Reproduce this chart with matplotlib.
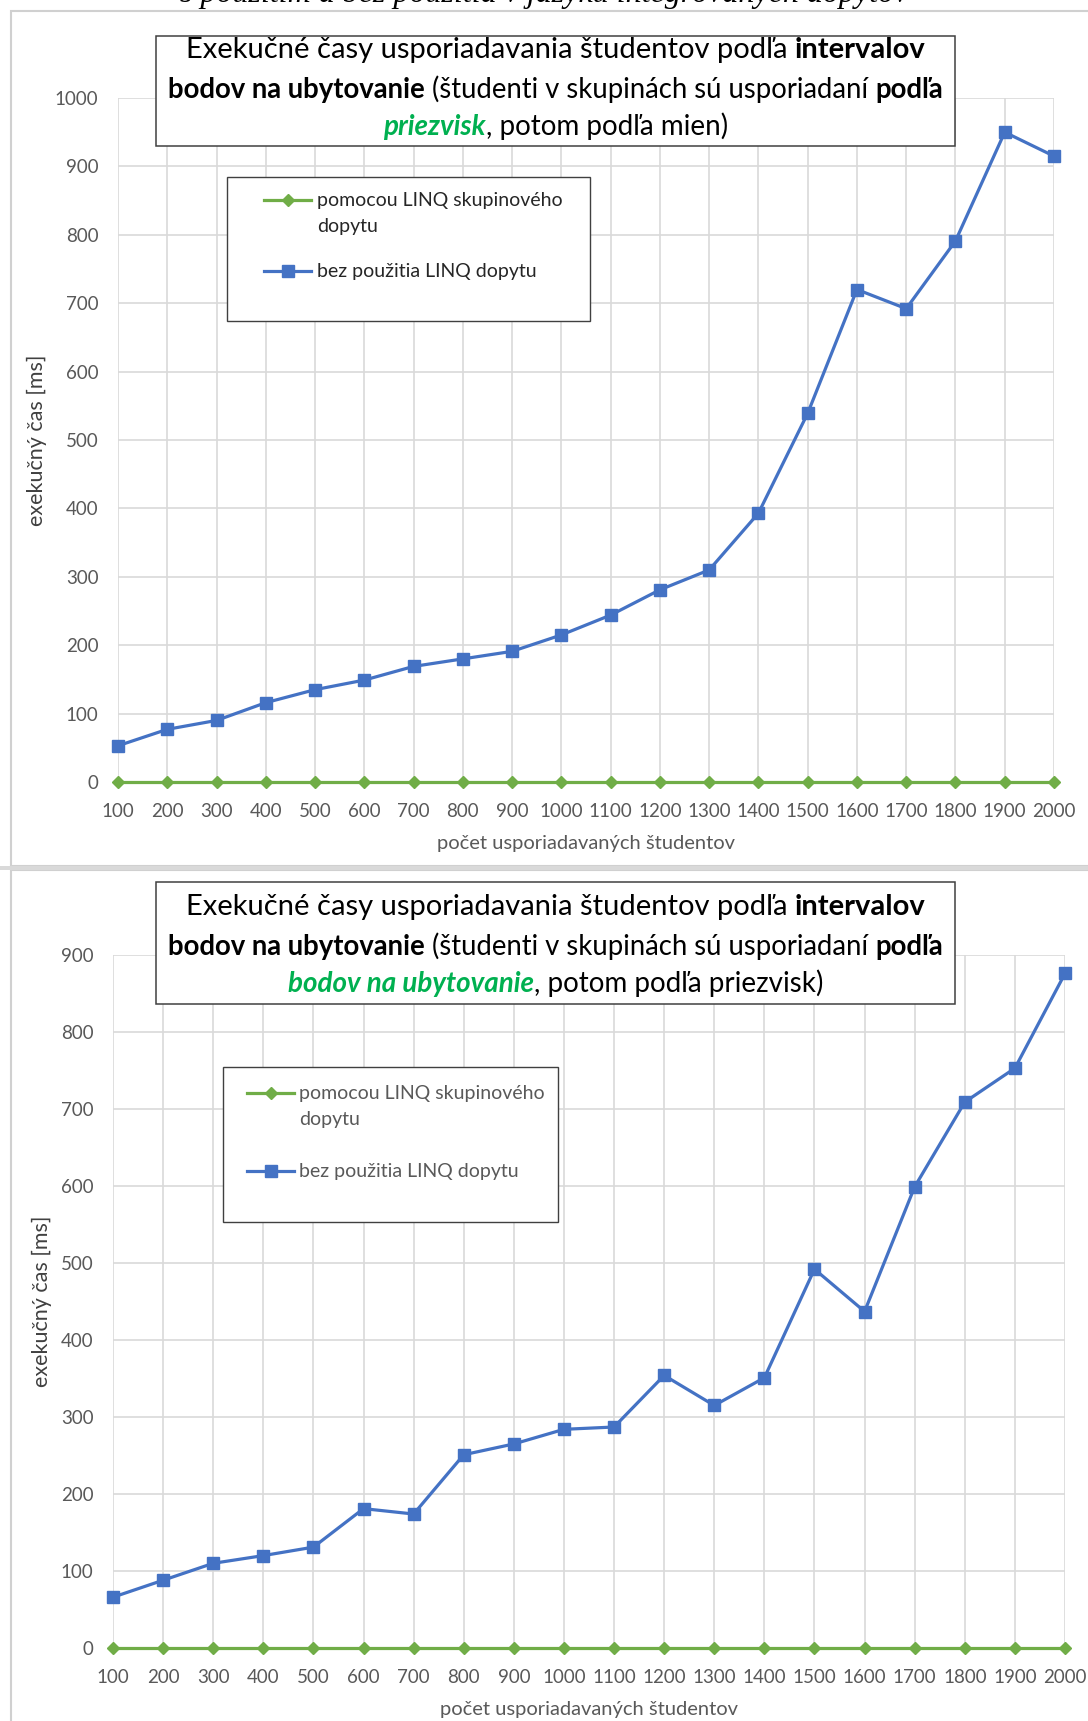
import matplotlib
matplotlib.use("Agg")
import matplotlib.pyplot as plt
from matplotlib.patches import Rectangle
from matplotlib.lines import Line2D

W, H = 1088, 1721
plt.rcParams['font.family'] = ['Lato', 'DejaVu Sans']

# data
students = [100, 200, 300, 400, 500, 600, 700, 800, 900, 1000,
            1100, 1200, 1300, 1400, 1500, 1600, 1700, 1800, 1900, 2000]
linq_top = [0] * 20
plain_top = [53, 77, 90, 116, 135, 149, 169, 180, 191, 215,
             244, 281, 310, 393, 539, 720, 692, 791, 950, 915]
linq_bottom = [0] * 20
plain_bottom = [66, 88, 110, 120, 131, 181, 174, 251, 265, 284,
                287, 354, 315, 351, 492, 437, 599, 709, 753, 876]

label_linq = "pomocou LINQ skupinového\ndopytu"
label_plain = "bez použitia LINQ dopytu"
xlabel = "počet usporiadavaných študentov"
ylabel = "exekučný čas [ms]"

BLUE = "#4472C4"
GREEN = "#70AD47"
TITLE_GREEN = "#00B050"
GRID = "#D9D9D9"

fig = plt.figure(figsize=(W / 100, H / 100), dpi=100)
renderer = fig.canvas.get_renderer()


def fx(px):
    return px / W


def fy(py):
    return 1 - py / H


def text_width(s, size, **kw):
    t = fig.text(0, 0, s, fontsize=size, transform=None, **kw)
    w = t.get_window_extent(renderer).width
    t.remove()
    return w


def rich_line(parts, cx, y, size):
    # parts: (text, props, space_before)
    sp = text_width("x x", size) - text_width("xx", size)
    items = []
    total = 0
    for i, (s, kw, gap) in enumerate(parts):
        g = sp if (gap and i > 0) else 0
        w = text_width(s, size, **kw)
        items.append((s, kw, g))
        total += g + w
    x = cx - total / 2
    for s, kw, g in items:
        x += g
        t = fig.text(fx(x), fy(y), s, fontsize=size, va='baseline', ha='left', zorder=8, **kw)
        x += t.get_window_extent(renderer).width


def panel(ax, linq, plain, ymax, title_parts, title_box, title_y, leg_box, leg_line, leg_y, leg_color):
    ax.plot(students, plain, color=BLUE, lw=2.3, marker='s', ms=9, clip_on=False, zorder=3)
    ax.plot(students, linq, color=GREEN, lw=2.3, marker='D', ms=6, clip_on=False, zorder=4)
    ax.set_xlim(100, 2000)
    ax.set_ylim(0, ymax)
    ax.set_xticks(students)
    ax.set_yticks(range(0, ymax + 1, 100))
    ax.grid(True, color=GRID, lw=1.2)
    ax.set_axisbelow(True)
    for s in ax.spines.values():
        s.set_visible(False)
    ax.tick_params(length=0, labelsize=13.5, labelcolor="#595959")
    ax.tick_params(axis='x', pad=15)
    ax.tick_params(axis='y', pad=14)
    ax.set_xlabel(xlabel, fontsize=14.5, color="#595959", labelpad=11)
    ax.set_ylabel(ylabel, fontsize=15.5, color="#404040", labelpad=6)

    # title box
    x0, y0, x1, y1 = title_box
    fig.add_artist(Rectangle((fx(x0), fy(y1)), fx(x1 - x0), (y1 - y0) / H,
                             transform=fig.transFigure, facecolor='white',
                             edgecolor='#404040', lw=1.1, zorder=5))
    for parts, y, size in zip(title_parts, title_y, (21, 19.8, 20)):
        rich_line(parts, (x0 + x1) / 2, y, size)

    # legend box
    x0, y0, x1, y1 = leg_box
    fig.add_artist(Rectangle((fx(x0), fy(y1)), fx(x1 - x0), (y1 - y0) / H,
                             transform=fig.transFigure, facecolor='white',
                             edgecolor='#404040', lw=1.0, zorder=5))
    lx0, lx1, tx = leg_line
    for (marker, ms, col), ly in zip([('D', 6, GREEN), ('s', 9, BLUE)], [leg_y[0], leg_y[2]]):
        fig.add_artist(Line2D([fx(lx0), fx(lx1)], [fy(ly), fy(ly)], transform=fig.transFigure,
                              color=col, lw=2.3, zorder=6))
        fig.add_artist(Line2D([fx((lx0 + lx1) / 2)], [fy(ly)], transform=fig.transFigure,
                              color=col, marker=marker, ms=ms, zorder=7))
    first, second = label_linq.split("\n")
    for s, ly in zip([first, second, label_plain], leg_y):
        fig.text(fx(tx), fy(ly + 6), s, fontsize=14, color=leg_color, va='baseline', ha='left', zorder=8)


normal = dict(color='black')
bold = dict(color='black', fontweight='bold')
green_bi = dict(color=TITLE_GREEN, fontweight='bold', fontstyle='italic')

title_top = [
    [("Exekučné časy usporiadavania študentov podľa", normal, True), ("intervalov", bold, True)],
    [("bodov na ubytovanie", bold, True), ("(študenti v skupinách sú usporiadaní", normal, True), ("podľa", bold, True)],
    [("priezvisk", green_bi, True), (", potom podľa mien)", normal, False)],
]
title_bottom = [
    [("Exekučné časy usporiadavania študentov podľa", normal, True), ("intervalov", bold, True)],
    [("bodov na ubytovanie", bold, True), ("(študenti v skupinách sú usporiadaní", normal, True), ("podľa", bold, True)],
    [("bodov na ubytovanie", green_bi, True), (", potom podľa priezvisk)", normal, False)],
]

# panel frames and separator
fig.add_artist(Rectangle((fx(11), fy(866)), fx(1100), (866 - 11) / H, transform=fig.transFigure,
                         facecolor='none', edgecolor='#D0D0D0', lw=1.5))
fig.add_artist(Rectangle((fx(11), fy(1730)), fx(1100), (1730 - 870) / H, transform=fig.transFigure,
                         facecolor='none', edgecolor='#D0D0D0', lw=1.5))
fig.add_artist(Rectangle((fx(0), fy(870)), 1, 4 / H, transform=fig.transFigure,
                         facecolor='#D9D9D9', edgecolor='none'))

# caption cut off at the top edge, as in the source
fig.text(0.5, fy(2), "s použitím a bez použitia v jazyku integrovaných dopytov",
         family=['Liberation Serif', 'DejaVu Serif'], fontstyle='italic', fontsize=23,
         ha='center', va='baseline', color='black')

ax1 = fig.add_axes([fx(118), fy(782), fx(1054 - 118), (782 - 98) / H])
panel(ax1, linq_top, plain_top, 1000, title_top, (156, 36, 955, 146), (58, 98, 135),
      (227, 177, 590, 321), (264, 311, 317), (200, 226, 271), "#262626")

ax2 = fig.add_axes([fx(113), fy(1648), fx(1065 - 113), (1648 - 955) / H])
panel(ax2, linq_bottom, plain_bottom, 900, title_bottom, (156, 882, 955, 1004), (915, 955, 992),
      (223, 1067, 558, 1222), (247, 294, 299), (1093, 1119, 1171), "#595959")

fig.savefig("out.png", dpi=100)
